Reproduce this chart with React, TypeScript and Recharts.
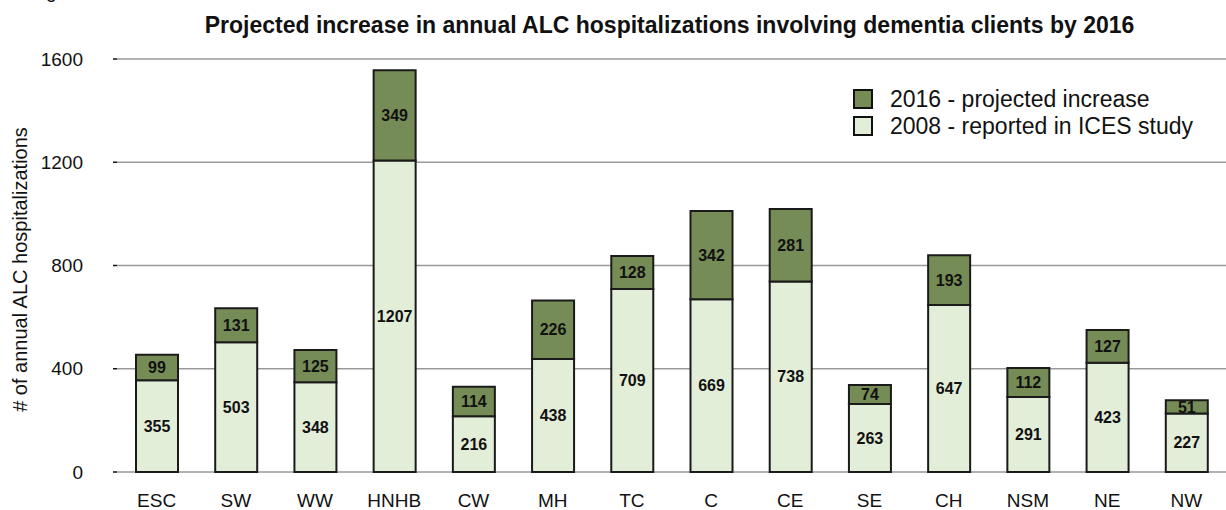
import React from 'react';
import { BarChart, Bar, XAxis, YAxis, CartesianGrid, LabelList } from 'recharts';

const regions = ['ESC', 'SW', 'WW', 'HNHB', 'CW', 'MH', 'TC', 'C', 'CE', 'SE', 'CH', 'NSM', 'NE', 'NW'];
const reported2008 = [355, 503, 348, 1207, 216, 438, 709, 669, 738, 263, 647, 291, 423, 227];
const increase2016 = [99, 131, 125, 349, 114, 226, 128, 342, 281, 74, 193, 112, 127, 51];
const yTicks = [0, 400, 800, 1200, 1600];
const boundaryTicks = regions.map((_, i) => i).concat([regions.length]);

const DARK = '#768c56';
const LIGHT = '#e3eed9';
const FONT = 'Liberation Sans, Arial, Helvetica, sans-serif';

const data = regions.map((r, i) => ({ region: r, reported: reported2008[i], increase: increase2016[i] }));

const legendItems = [
  { label: '2016 - projected increase', color: DARK },
  { label: '2008 - reported in ICES study', color: LIGHT },
];

function LegendBox() {
  return (
    <div style={{ position: 'absolute', left: 853, top: 89, fontFamily: FONT, fontSize: 23, color: '#111' }}>
      {legendItems.map((it) => (
        <div key={it.label} style={{ display: 'flex', alignItems: 'center', height: 20, marginBottom: 7 }}>
          <span
            style={{
              width: 16,
              height: 16,
              background: it.color,
              border: '2px solid #111',
              marginRight: 17,
              display: 'inline-block',
              flex: 'none',
            }}
          />
          <span style={{ whiteSpace: 'nowrap' }}>{it.label}</span>
        </div>
      ))}
    </div>
  );
}

export default function App() {
  return (
    <div style={{ position: 'absolute', left: 0, top: 0, width: 1226, height: 510, background: '#fff', overflow: 'hidden' }}>
      <div style={{ position: 'absolute', left: 46, top: -19, fontFamily: FONT, fontSize: 19, color: '#111' }}>g</div>
      <div
        style={{
          position: 'absolute',
          left: 113,
          right: 0,
          top: 12,
          textAlign: 'center',
          fontFamily: FONT,
          fontWeight: 'bold',
          fontSize: 23,
          color: '#111',
          whiteSpace: 'nowrap',
        }}
      >
        Projected increase in annual ALC hospitalizations involving dementia clients by 2016
      </div>
      <BarChart
        width={1226}
        height={510}
        data={data}
        margin={{ top: 59, right: 0, bottom: 0, left: 0 }}
        barSize={42}
        style={{ fontFamily: FONT }}
      >
        <CartesianGrid vertical={false} stroke="#999" strokeWidth={1.5} />
        <XAxis
          xAxisId="edges"
          type="number"
          domain={[0, regions.length]}
          ticks={boundaryTicks}
          allowDataOverflow
          height={0}
          tickSize={5}
          tickFormatter={() => ''}
          axisLine={{ stroke: '#999', strokeWidth: 2 }}
          tickLine={{ stroke: '#111', strokeWidth: 1.5 }}
        />
        <XAxis
          xAxisId="cat"
          dataKey="region"
          height={38}
          axisLine={false}
          tickLine={false}
          tickMargin={16}
          tick={{ fill: '#111', fontSize: 19 }}
        />
        <YAxis
          width={117}
          domain={[0, 1600]}
          ticks={yTicks}
          axisLine={false}
          tickSize={4}
          tickMargin={30}
          tickLine={{ stroke: '#111', strokeWidth: 1.5 }}
          tick={{ fill: '#111', fontSize: 19 }}
          label={{
            content: (props: any) => {
              const vb = props.viewBox || {};
              const cx = 20;
              const cy = (vb.y ?? 59) + (vb.height ?? 413) / 2 + 4;
              return (
                <text
                  x={cx}
                  y={cy}
                  transform={`rotate(-90, ${cx}, ${cy})`}
                  textAnchor="middle"
                  dominantBaseline="central"
                  fill="#111"
                  fontSize={20}
                >
                  # of annual ALC hospitalizations
                </text>
              );
            },
          }}
        />
        <Bar xAxisId="cat" dataKey="reported" stackId="a" fill={LIGHT} stroke="#1a1a1a" strokeWidth={2} isAnimationActive={false}>
          <LabelList dataKey="reported" position="center" fill="#111" fontSize={16} fontWeight="bold" />
        </Bar>
        <Bar xAxisId="cat" dataKey="increase" stackId="a" fill={DARK} stroke="#1a1a1a" strokeWidth={2} isAnimationActive={false}>
          <LabelList dataKey="increase" position="center" fill="#111" fontSize={16} fontWeight="bold" />
        </Bar>
      </BarChart>
      <LegendBox />
    </div>
  );
}
